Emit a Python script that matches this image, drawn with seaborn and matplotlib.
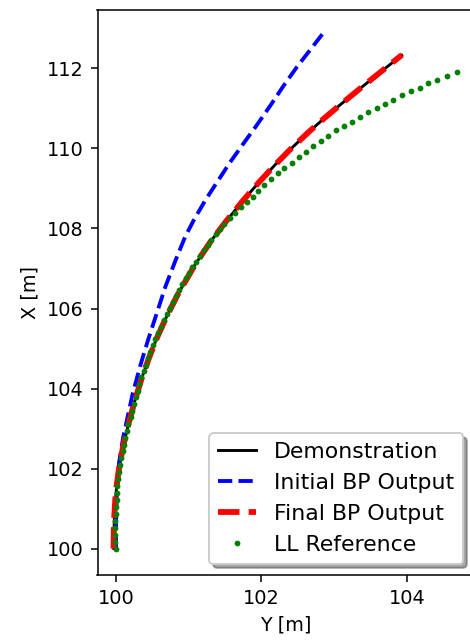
import matplotlib
matplotlib.use("Agg")
import matplotlib.pyplot as plt
import seaborn as sns

# Demonstration (black) / Final BP Output (red)
demo_y = [99.97, 99.975, 100.0, 100.04, 100.098, 100.175, 100.261, 100.361, 100.461, 100.571,
          100.696, 100.858, 101.085, 101.30, 101.51, 101.753, 101.974, 102.188, 102.388, 102.632,
          102.849, 103.077, 103.305, 103.557, 103.93]
demo_x = [100.0, 100.7, 101.4, 101.97, 102.55, 103.14, 103.71, 104.3, 104.8, 105.3,
          105.8, 106.38, 107.09, 107.67, 108.17, 108.71, 109.17, 109.59, 109.96, 110.38,
          110.73, 111.08, 111.42, 111.79, 112.33]
final_y = [99.965, 99.972, 99.995, 100.038, 100.097, 100.175, 100.261, 100.361, 100.461, 100.571,
           100.696, 100.858, 101.085, 101.30, 101.51, 101.753, 101.974, 102.188, 102.388, 102.632,
           102.849, 103.077, 103.305, 103.557, 103.935]
final_x = [100.0, 100.7, 101.4, 101.97, 102.55, 103.14, 103.71, 104.3, 104.8, 105.3,
           105.8, 106.38, 107.09, 107.67, 108.17, 108.71, 109.17, 109.59, 109.96, 110.38,
           110.73, 111.08, 111.42, 111.79, 112.34]

# Initial BP Output (blue)
init_y = [100.0, 100.0, 100.01, 100.04, 100.10, 100.23, 100.33, 100.44, 100.56, 100.68,
          100.82, 100.95, 101.07, 101.23, 101.38, 101.56, 101.74, 101.92, 102.13, 102.31,
          102.49, 102.67, 102.84]
init_x = [100.0, 100.6, 101.3, 102.13, 102.80, 103.88, 104.55, 105.21, 105.88, 106.55,
          107.21, 107.79, 108.21, 108.71, 109.13, 109.63, 110.09, 110.54, 111.09, 111.58,
          112.04, 112.46, 112.86]

# LL Reference (green dots)
ll_y = [100.00, 99.99, 99.99, 99.99, 99.99, 100.00, 100.00, 100.01, 100.01, 100.02,
        100.03, 100.04, 100.05, 100.07, 100.09, 100.11, 100.13, 100.15, 100.17, 100.20,
        100.22, 100.25, 100.28, 100.30, 100.32, 100.35, 100.38, 100.41, 100.44, 100.47,
        100.51, 100.54, 100.58, 100.62, 100.66, 100.70, 100.74, 100.78, 100.82, 100.87,
        100.91, 100.96, 101.01, 101.05, 101.10, 101.15, 101.21, 101.26, 101.31, 101.37,
        101.43, 101.49,
        101.569, 101.638, 101.716, 101.799, 101.881, 101.958, 102.041, 102.133, 102.225, 102.316,
        102.418, 102.514, 102.615, 102.715, 102.817, 102.921, 103.027, 103.137, 103.243, 103.358,
        103.472, 103.587, 103.702, 103.816, 103.940, 104.059, 104.183, 104.298, 104.421, 104.551,
        104.688]
ll_x = [100.00, 100.17, 100.35, 100.52, 100.70, 100.87, 101.05, 101.22, 101.40, 101.57,
        101.75, 101.92, 102.09, 102.26, 102.43, 102.60, 102.77, 102.94, 103.11, 103.28,
        103.45, 103.62, 103.78, 103.95, 104.12, 104.28, 104.44, 104.60, 104.76, 104.92,
        105.08, 105.24, 105.40, 105.55, 105.71, 105.86, 106.01, 106.16, 106.31, 106.46,
        106.60, 106.75, 106.89, 107.03, 107.17, 107.31, 107.45, 107.59, 107.72, 107.86,
        107.99, 108.12,
        108.254, 108.394, 108.544, 108.669, 108.793, 108.943, 109.086, 109.228, 109.378, 109.503,
        109.643, 109.793, 109.918, 110.060, 110.185, 110.310, 110.460, 110.560, 110.667, 110.792,
        110.902, 111.009, 111.109, 111.209, 111.327, 111.434, 111.516, 111.626, 111.709, 111.816,
        111.901]

DPI = 139
fig = plt.figure(figsize=(470 / DPI, 640 / DPI), dpi=DPI)
ax = fig.add_axes([97.5 / 470, 65 / 640, (474 - 97.5) / 470, 565 / 640])

sns.lineplot(x=demo_y, y=demo_x, ax=ax, color="black", linewidth=1.5,
             sort=False, estimator=None, label="Demonstration")
sns.lineplot(x=init_y, y=init_x, ax=ax, color="blue", linewidth=2, linestyle="--",
             sort=False, estimator=None, label="Initial BP Output")
sns.lineplot(x=final_y, y=final_x, ax=ax, color="red", linewidth=3, linestyle="--",
             sort=False, estimator=None, label="Final BP Output")
sns.lineplot(x=ll_y, y=ll_x, ax=ax, color="green", linestyle="", marker=".",
             markersize=6, markeredgewidth=0, sort=False, estimator=None,
             label="LL Reference")

ax.set_xlim(99.745, 104.925)
ax.set_ylim(99.34, 113.46)
ax.set_xticks([100, 102, 104])
ax.set_yticks([100, 102, 104, 106, 108, 110, 112])
ax.set_xlabel("Y [m]")
ax.set_ylabel("X [m]")
ax.legend(loc="lower right", shadow=True, fontsize=11.4, handlelength=1.75)

fig.savefig("out.png", dpi=DPI)
